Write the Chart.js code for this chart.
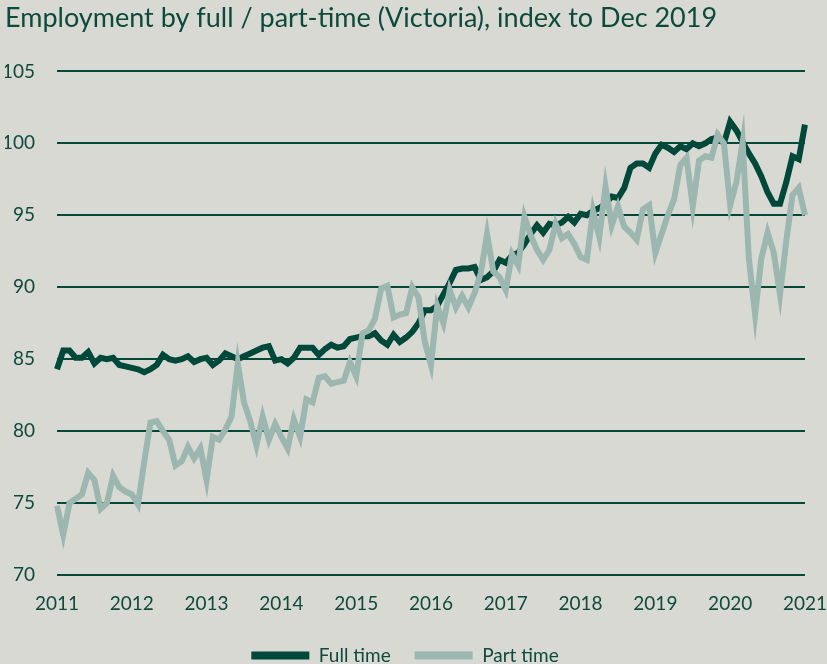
<!DOCTYPE html>
<html>
<head>
<meta charset="utf-8">
<script src="https://cdn.jsdelivr.net/npm/chart.js@4/dist/chart.umd.min.js"></script>
<style>
    body { margin: 0; background: #d9d9d4; }
    .wrap { width: 827px; height: 664px; position: relative; }
</style>
</head>
<body>
<div class="wrap"><canvas id="chart"></canvas></div>
<script>
// Anos do eixo x (rótulos em janeiro)
const years = ['2011', '2012', '2013', '2014', '2015', '2016', '2017', '2018', '2019', '2020', '2021'];
const monthNames = ['Jan', 'Feb', 'Mar', 'Apr', 'May', 'Jun', 'Jul', 'Aug', 'Sep', 'Oct', 'Nov', 'Dec'];

// Emprego em tempo integral, índice (Dez 2019 = 100), jan/2011 a jan/2021
const fullTime = [
    84.3, 85.6, 85.6, 85.1, 85.1, 85.5, 84.7, 85.1, 85.0, 85.1, 84.6, 84.5,
    84.4, 84.3, 84.1, 84.3, 84.6, 85.3, 85.0, 84.9, 85.0, 85.2, 84.8, 85.0,
    85.1, 84.6, 84.9, 85.4, 85.2, 85.0, 85.2, 85.4, 85.6, 85.8, 85.9, 84.9,
    85.0, 84.7, 85.1, 85.8, 85.8, 85.8, 85.3, 85.7, 86.0, 85.8, 85.9, 86.4,
    86.5, 86.6, 86.6, 86.8, 86.3, 86.0, 86.7, 86.2, 86.5, 86.9, 87.5, 88.4,
    88.4, 88.7, 89.5, 90.3, 91.2, 91.3, 91.3, 91.4, 90.5, 90.7, 91.1, 91.9,
    91.7, 92.2, 92.4, 93.0, 93.7, 94.3, 93.8, 94.4, 94.3, 94.5, 94.9, 94.5,
    95.1, 95.0, 95.3, 95.5, 95.8, 96.3, 96.2, 96.9, 98.3, 98.6, 98.6, 98.3,
    99.3, 99.9, 99.7, 99.4, 99.8, 99.6, 100.0, 99.8, 100.0, 100.3, 100.4, 100.0,
    101.5, 100.9, 100.1, 99.3, 98.6, 97.7, 96.6, 95.8, 95.8, 97.3, 99.1, 98.9,
    101.3
];

// Emprego em tempo parcial, mesmo índice
const partTime = [
    74.8, 72.8, 75.0, 75.3, 75.6, 77.1, 76.6, 74.6, 75.0, 76.9, 76.1, 75.8,
    75.6, 74.9, 77.9, 80.6, 80.7, 80.0, 79.4, 77.6, 77.9, 78.9, 78.1, 78.8,
    76.6, 79.6, 79.4, 80.1, 81.0, 84.7, 82.0, 80.7, 79.0, 81.0, 79.4, 80.5,
    79.6, 78.8, 80.8, 79.6, 82.2, 82.0, 83.7, 83.8, 83.3, 83.4, 83.5, 84.8,
    83.8, 86.8, 87.0, 87.8, 89.9, 90.1, 87.9, 88.1, 88.2, 90.0, 89.3, 86.2,
    84.6, 88.7, 87.5, 89.8, 88.6, 89.4, 88.6, 89.6, 91.0, 93.7, 91.1, 90.7,
    89.8, 92.3, 91.5, 94.9, 93.6, 92.6, 91.9, 92.6, 94.4, 93.4, 93.7, 93.0,
    92.1, 91.9, 95.3, 93.5, 97.0, 94.3, 95.6, 94.2, 93.8, 93.3, 95.4, 95.7,
    92.4, 93.7, 95.0, 96.1, 98.5, 99.0, 95.6, 98.8, 99.1, 99.0, 100.6, 100.0,
    95.7, 97.3, 100.1, 92.0, 88.1, 92.0, 93.8, 92.4, 89.5, 93.2, 96.4, 96.9,
    95.0
];

const darkGreen = '#00483a';
const lightGreen = '#9bb7b0';
const textColor = '#0d4a3c';
const tickFont = { family: 'Lato', size: 19 };

// Rótulos mensais a partir dos anos
const labels = [];
years.forEach(y => {
    monthNames.forEach(m => {
        if (labels.length < fullTime.length) labels.push(m + ' ' + y);
    });
});

const ctx = document.getElementById('chart').getContext('2d');
new Chart(ctx, {
    type: 'line',
    data: {
        labels: labels,
        datasets: [
            {
                label: 'Full time',
                data: fullTime,
                borderColor: darkGreen,
                backgroundColor: darkGreen,
                borderWidth: 6,
                pointRadius: 0,
                tension: 0,
                order: 1
            },
            {
                label: 'Part time',
                data: partTime,
                borderColor: lightGreen,
                backgroundColor: lightGreen,
                borderWidth: 6,
                pointRadius: 0,
                tension: 0,
                order: 0
            }
        ]
    },
    options: {
        responsive: true,
        maintainAspectRatio: false,
        animation: false,
        layout: { padding: { left: 5, right: 22, top: 2, bottom: -11 } },
        plugins: {
            title: {
                display: true,
                text: 'Employment by full / part-time (Victoria), index to Dec 2019',
                align: 'start',
                color: textColor,
                font: { family: 'Lato', size: 27, weight: 'normal' },
                padding: { top: 0, bottom: 37 }
            },
            legend: {
                position: 'bottom',
                labels: {
                    color: textColor,
                    font: tickFont,
                    boxWidth: 58,
                    boxHeight: 8,
                    useBorderRadius: true,
                    borderRadius: 4,
                    padding: 24,
                    generateLabels: function(chart) {
                        return chart.data.datasets.map((ds, i) => ({
                            text: ds.label,
                            fillStyle: ds.borderColor,
                            strokeStyle: ds.borderColor,
                            lineWidth: 0,
                            fontColor: textColor,
                            datasetIndex: i
                        }));
                    }
                }
            },
            tooltip: { enabled: false }
        },
        scales: {
            x: {
                grid: { drawOnChartArea: false, tickLength: 17, tickColor: 'rgba(0,0,0,0)' },
                border: { display: false },
                afterFit: function(scale) { scale.height = 47; },
                ticks: {
                    autoSkip: false,
                    maxRotation: 0,
                    color: textColor,
                    font: tickFont,
                    padding: 0,
                    callback: function(value, index) {
                        return index % 12 === 0 ? years[index / 12] : '';
                    }
                }
            },
            y: {
                min: 70,
                max: 105,
                grid: { color: darkGreen, lineWidth: 2, drawTicks: false },
                border: { display: false },
                afterFit: function(scale) { scale.width = 52; },
                ticks: {
                    stepSize: 5,
                    color: textColor,
                    font: tickFont,
                    padding: 22
                }
            }
        }
    }
});
</script>
</body>
</html>
